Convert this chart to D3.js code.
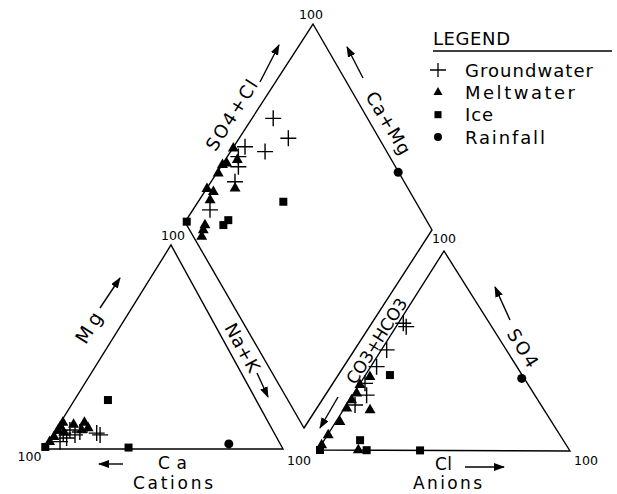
<!DOCTYPE html>
<html><head><meta charset="utf-8">
<script src="https://cdn.jsdelivr.net/npm/d3@7"></script>
<style>body{margin:0;background:#fff}svg{display:block}text{font-family:"DejaVu Sans",Arial,sans-serif;fill:#000}</style>
</head><body><svg id="c" width="617" height="494"></svg>
<script>
// ---------- DATA ----------
// Cation triangle: [Mg %, Na+K %]  (Ca = 100 - Mg - NaK)
const cationGroundwater = [[7.8,3.9],[9.3,5.9],[6.9,9.3],[7.8,17.9],[3.6,4.8],[5.4,6.6],[6.9,19.8],[8.3,10.6]];
const cationMeltwater   = [[13,1],[11,1],[9,1],[6,1],[3.5,0.5],[13,10],[10.3,13],[9.3,10.8],[12,6],[8,4]];
const cationIce         = [[24,14],[0.7,35],[1,0]];
const cationRainfall    = [[2.5,76]];
// Anion triangle: [SO4 %, Cl %]  (CO3+HCO3 = 100 - SO4 - Cl)
const anionGroundwater = [[63.7,2],[62,4],[50.3,2.1],[41.9,2.3],[33.5,1.9],[27.6,5.5],[22.6,3.4]];
const anionMeltwater   = [[36.8,2.2],[32.7,0.3],[28.5,1.1],[25.1,0.8],[21,0.9],[14.2,1.6],[7.5,0.3],[2.5,0.2],[20.1,10.6],[0,16]];
const anionIce         = [[37.7,9.7],[5,14.2],[0,19.3],[0,40.5],[0,0.8]];
const anionRainfall    = [[36.3,62.7]];
// Diamond: [SO4+Cl %, Ca+Mg %]
const diamondGroundwater = [[61.1,91.6],[62.6,80.5],[42.7,95.5],[49.8,86.3],[35.2,93],[30.2,90.5],[13.2,93.2],[37.6,95.6]];
const diamondMeltwater   = [[37.5,99.7],[36.4,95.2],[29.1,99.8],[25.3,99.3],[31.2,98.5],[17,99.8],[18.9,96.5],[15.6,95.7],[28.7,88.8],[5.6,90.7],[3.4,89.6],[7.5,91.3]];
const diamondIce         = [[0.8,99.4],[15.1,84],[18.3,83.3],[45.4,66.2]];
const diamondRainfall    = [[99.8,28.2]];
const legendLabels = ["Groundwater","Meltwater","Ice","Rainfall"];
const vertexLabel = "100";

// ---------- LAYOUT ----------
const svg = d3.select("#c");
const pct = d3.scaleLinear().domain([0,100]).range([0,1]);
const CAT = {ca:[44,449], nak:[283,449], mg:[171,245]};
const AN  = {hco3:[318,450], cl:[570,451], so4:[444,251]};
const DIA = {bottom:[304,428], right:[432,230], left:[185,222]};
DIA.top = [DIA.left[0]+DIA.right[0]-DIA.bottom[0], DIA.left[1]+DIA.right[1]-DIA.bottom[1]];

function tern(A,B,C,b,c){
  const wb=pct(b), wc=pct(c), wa=1-wb-wc;
  return [A[0]*wa+B[0]*wb+C[0]*wc, A[1]*wa+B[1]*wb+C[1]*wc];
}
const catPos = d => tern(CAT.ca, CAT.nak, CAT.mg, d[1], d[0]);
const anPos  = d => tern(AN.hco3, AN.cl, AN.so4, d[1], d[0]);
const diaPos = d => { const s=pct(d[0]), c=pct(d[1]), B=DIA.bottom, R=DIA.right, L=DIA.left;
  return [B[0]+s*(R[0]-B[0])+c*(L[0]-B[0]), B[1]+s*(R[1]-B[1])+c*(L[1]-B[1])]; };

const line = d3.line();
const frame = svg.append("g").attr("fill","none").attr("stroke","#000").attr("stroke-width",1.4);
frame.append("path").attr("d", line([CAT.ca,CAT.nak,CAT.mg])+"Z");
frame.append("path").attr("d", line([AN.hco3,AN.cl,AN.so4])+"Z");
frame.append("path").attr("d", line([DIA.bottom,DIA.right,DIA.top,DIA.left])+"Z");

const sym = {
  tri: d3.symbol().type(d3.symbolTriangle).size(52),
  sq: d3.symbol().type(d3.symbolSquare).size(64),
  circ: d3.symbol().type(d3.symbolCircle).size(64)
};
function plot(data,posFn,kind){
  const g = svg.append("g");
  data.forEach(d=>{
    const p = posFn(d);
    if(kind==="cross"){
      g.append("path").attr("d",`M${p[0]-8},${p[1]}H${p[0]+8}M${p[0]},${p[1]-8}V${p[1]+8}`)
        .attr("stroke","#000").attr("stroke-width",1.4).attr("fill","none");
    } else {
      g.append("path").attr("d",sym[kind]()).attr("transform",`translate(${p[0]},${p[1]})`).attr("fill","#000");
    }
  });
}
[[cationGroundwater,catPos],[anionGroundwater,anPos],[diamondGroundwater,diaPos]].forEach(([d,f])=>plot(d,f,"cross"));
[[cationMeltwater,catPos],[anionMeltwater,anPos],[diamondMeltwater,diaPos]].forEach(([d,f])=>plot(d,f,"tri"));
[[cationIce,catPos],[anionIce,anPos],[diamondIce,diaPos]].forEach(([d,f])=>plot(d,f,"sq"));
[[cationRainfall,catPos],[anionRainfall,anPos],[diamondRainfall,diaPos]].forEach(([d,f])=>plot(d,f,"circ"));

svg.append("defs").append("marker").attr("id","ah").attr("markerUnits","userSpaceOnUse")
  .attr("markerWidth",12).attr("markerHeight",10).attr("refX",10).attr("refY",4).attr("orient","auto")
  .append("path").attr("d","M0,0L11,4L0,8Z").attr("fill","#000");
function arrow(a,b){
  svg.append("line").attr("x1",a[0]).attr("y1",a[1]).attr("x2",b[0]).attr("y2",b[1])
    .attr("stroke","#000").attr("stroke-width",1.4).attr("marker-end","url(#ah)");
}
function label(txt,x,y,ang,len,size){
  const t = svg.append("text").attr("text-anchor","middle").attr("dominant-baseline","central")
    .attr("font-size",size||18).attr("transform",`translate(${x},${y}) rotate(${ang})`).text(txt);
  if(len) t.attr("textLength",len).attr("lengthAdjust","spacing");
}
function sub(txt,x,y,len,size){
  const t = svg.append("text").attr("text-anchor","middle").attr("x",x).attr("y",y).attr("font-size",size||18).text(txt);
  if(len) t.attr("textLength",len).attr("lengthAdjust","spacing");
}
label("SO4+Cl",231.5,115,-57.4,80);   arrow([260,82],[279,45]);
label("Ca+Mg",388.5,123,59.4,70);     arrow([363,78],[347,47]);
label("Mg",88.5,327.5,-58.1,33,19);   arrow([100,308],[120,278]);
label("Na+K",242.5,347.5,61.2,53);    arrow([257,373],[268,397]);
label("CO3+HCO3",376.7,341,-57.7,98,17); arrow([338,397],[320,428]);
label("SO4",523,348,57.8,42);         arrow([510,320],[495,287]);
sub("Ca",172.5,469,29,17); arrow([123,464],[99,464]);
sub("Cations",173,489,80,17);
sub("Cl",443.5,470,17,17); arrow([465,467],[504,467]);
sub("Anions",447.5,489,69,17);

[[311,19],[173,240],[444,243],[29.5,461],[299,465],[586,465]].forEach(p=>{
  svg.append("text").attr("x",p[0]).attr("y",p[1]).attr("text-anchor","middle").attr("font-size",13)
    .attr("textLength",24).attr("lengthAdjust","spacingAndGlyphs").text(vertexLabel);
});

const lg = svg.append("g");
lg.append("text").attr("x",433).attr("y",45).attr("font-size",18).attr("textLength",77).attr("lengthAdjust","spacing").text("LEGEND");
lg.append("line").attr("x1",433).attr("x2",612).attr("y1",51).attr("y2",51).attr("stroke","#000").attr("stroke-width",1.3);
const lgY = d3.scalePoint().domain(legendLabels).range([70,137]);
const lgLen = {Groundwater:128, Meltwater:110, Ice:28, Rainfall:80};
const lgKind = {Groundwater:"cross", Meltwater:"tri", Ice:"sq", Rainfall:"circ"};
legendLabels.forEach(k=>{
  const y = lgY(k);
  if(lgKind[k]==="cross"){
    lg.append("path").attr("d",`M430,${y}H446M438,${y-7}V${y+7}`).attr("stroke","#000").attr("stroke-width",1.3);
  } else {
    lg.append("path").attr("d",d3.symbol().type(lgKind[k]==="tri"?d3.symbolTriangle:lgKind[k]==="sq"?d3.symbolSquare:d3.symbolCircle).size(lgKind[k]==="tri"?36:50)())
      .attr("transform",`translate(438,${y})`).attr("fill","#000");
  }
  lg.append("text").attr("x",465).attr("y",y+6.5).attr("font-size",18).attr("textLength",lgLen[k]).attr("lengthAdjust","spacing").text(k);
});
</script></body></html>
